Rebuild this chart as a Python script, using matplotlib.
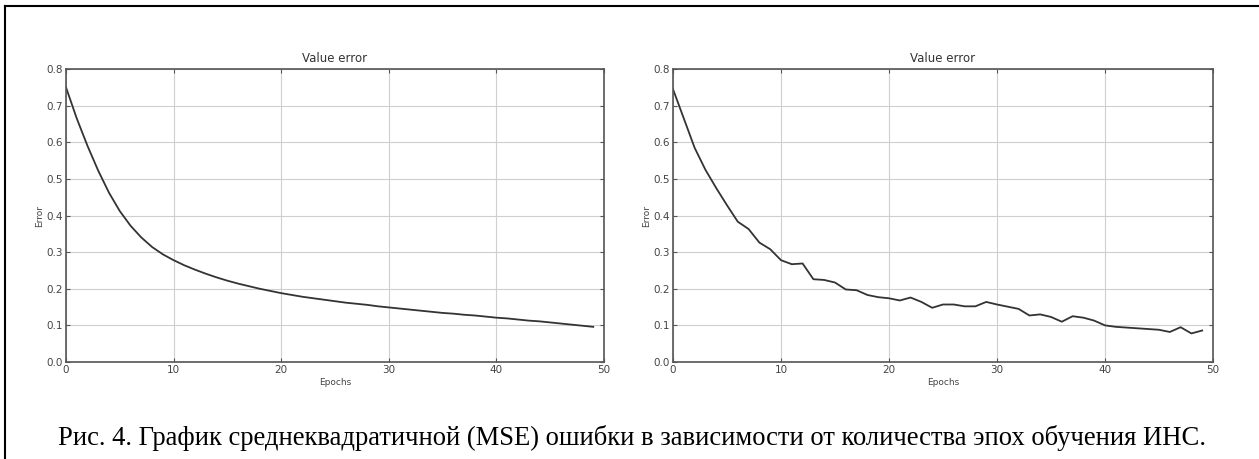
import matplotlib
matplotlib.use("Agg")
import matplotlib.pyplot as plt
from matplotlib.lines import Line2D

epochs = list(range(50))

err_left = [0.750, 0.665, 0.590, 0.522, 0.462, 0.412, 0.372, 0.340, 0.314, 0.294,
            0.278, 0.264, 0.252, 0.241, 0.231, 0.222, 0.214, 0.207, 0.200, 0.194,
            0.188, 0.183, 0.178, 0.174, 0.170, 0.166, 0.162, 0.159, 0.156, 0.152,
            0.149, 0.146, 0.143, 0.140, 0.137, 0.134, 0.132, 0.129, 0.127, 0.124,
            0.121, 0.119, 0.116, 0.113, 0.111, 0.108, 0.105, 0.102, 0.099, 0.096]

err_right = [0.745, 0.665, 0.585, 0.525, 0.475, 0.428, 0.383, 0.363, 0.326, 0.308,
             0.278, 0.267, 0.269, 0.226, 0.224, 0.217, 0.198, 0.196, 0.183, 0.177,
             0.174, 0.168, 0.176, 0.164, 0.148, 0.157, 0.157, 0.152, 0.152, 0.164,
             0.157, 0.151, 0.145, 0.127, 0.130, 0.123, 0.110, 0.125, 0.121, 0.113,
             0.100, 0.096, 0.094, 0.092, 0.090, 0.088, 0.082, 0.095, 0.078, 0.086]

x_ticks = [0, 10, 20, 30, 40, 50]
y_ticks = [0.0, 0.1, 0.2, 0.3, 0.4, 0.5, 0.6, 0.7, 0.8]
title = "Value error"
xlabel = "Epochs"
ylabel = "Error"
caption = "Рис. 4. График среднеквадратичной (MSE) ошибки в зависимости от количества эпох обучения ИНС."

W, H = 1259, 459
fig = plt.figure(figsize=(W / 100, H / 100), dpi=100)
fig.patch.set_facecolor("white")

def px_axes(x0, x1, ytop, ybot):
    return [x0 / W, 1 - ybot / H, (x1 - x0) / W, (ybot - ytop) / H]

ax1 = fig.add_axes(px_axes(66, 604, 69, 362))
ax2 = fig.add_axes(px_axes(673, 1213, 69, 362))

for ax, data in ((ax1, err_left), (ax2, err_right)):
    ax.plot(epochs, data, color="#333333", lw=1.3)
    ax.set_xlim(0, 50)
    ax.set_ylim(0, 0.8)
    ax.set_xticks(x_ticks)
    ax.set_yticks(y_ticks)
    ax.set_xticklabels([str(t) for t in x_ticks])
    ax.set_yticklabels([f"{t:.1f}" for t in y_ticks])
    ax.tick_params(direction="in", labelsize=7.5, pad=2, length=3, color="#555555",
                   labelcolor="#444444", top=True, right=True)
    ax.grid(True, color="#cfcfcf", lw=0.8, ls="-")
    for s in ax.spines.values():
        s.set_color("#555555")
        s.set_linewidth(1.2)
    ax.set_title(title, fontsize=8.5, color="#333333", pad=5)
    ax.set_xlabel(xlabel, fontsize=6.5, color="#444444", labelpad=2)
    ax.set_ylabel(ylabel, fontsize=6.5, color="#444444", labelpad=2)

fig.text(632 / W, 1 - 445 / H, caption, ha="center", va="baseline",
         fontsize=19.2, family="Liberation Serif", color="black")

fig.add_artist(Line2D([4.5 / W, 4.5 / W], [0, 1 - 6 / H], transform=fig.transFigure,
                      color="black", lw=1.5))
fig.add_artist(Line2D([4.5 / W, 1], [1 - 6 / H, 1 - 6 / H], transform=fig.transFigure,
                      color="black", lw=1.5))

fig.savefig("out.png", dpi=100)
